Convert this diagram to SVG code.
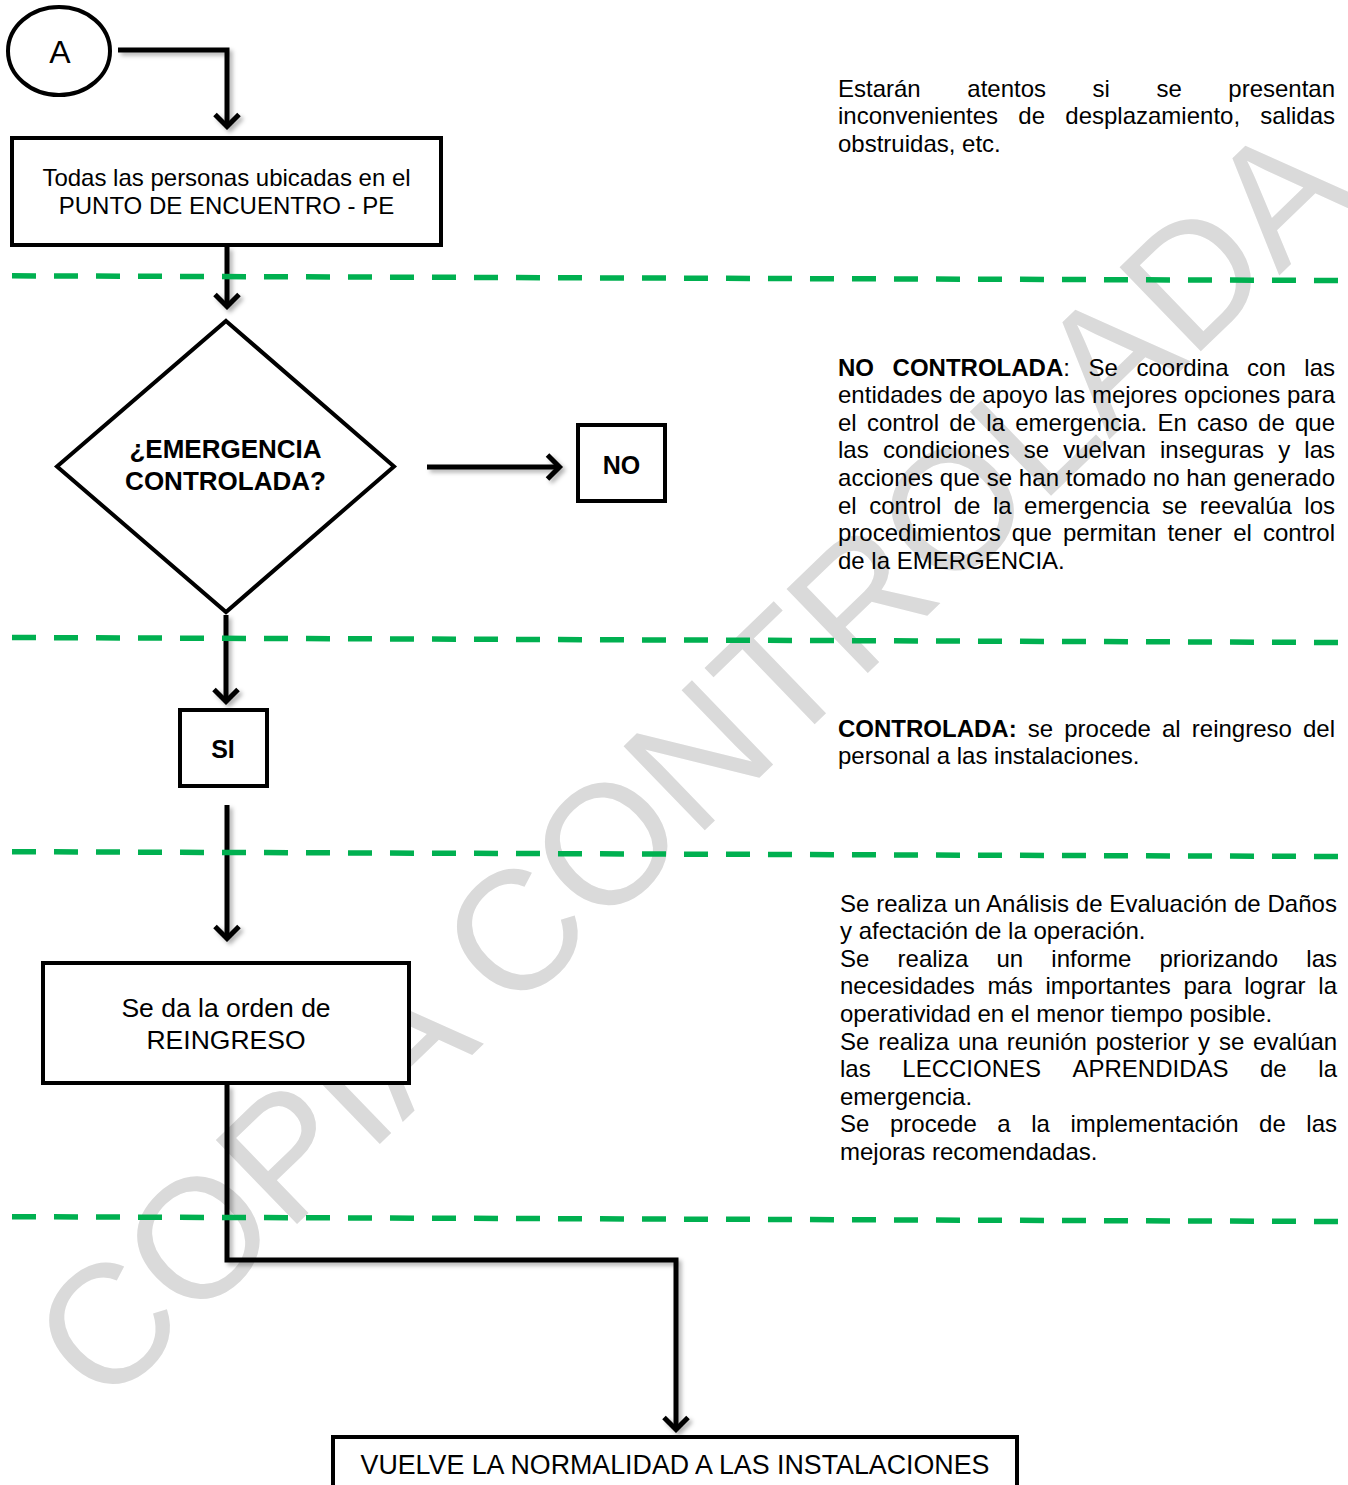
<svg xmlns="http://www.w3.org/2000/svg" width="1348" height="1485" viewBox="0 0 1348 1485">
<style>
.t{font-family:"Liberation Sans",Arial,sans-serif;fill:#000}
.p{font-size:24px}
.b{font-weight:bold}
.node{fill:#fff;stroke:#000;stroke-width:4}
.conn{fill:none;stroke:#000;stroke-width:5;stroke-linejoin:miter}
.sep{fill:none;stroke:#00b050;stroke-width:5.5;stroke-dasharray:24 18}
.wm{font-family:"Liberation Sans",Arial,sans-serif;font-size:170px;fill:#dadada}
</style>
<defs>
<marker id="ah" markerUnits="userSpaceOnUse" markerWidth="40" markerHeight="40" viewBox="-20 -20 40 40" refX="0" refY="0" orient="auto" overflow="visible">
<path d="M-12,-12 L0,0 L-12,12" fill="none" stroke="#000" stroke-width="5" stroke-linejoin="miter"/>
</marker>
<filter id="sh" filterUnits="userSpaceOnUse" x="0" y="0" width="1348" height="1485">
<feDropShadow dx="3" dy="3" stdDeviation="2" flood-color="#000" flood-opacity="0.3"/>
</filter>
</defs>
<rect width="1348" height="1485" fill="#fff"/>
<text id="watermark" class="wm" x="732" y="804" text-anchor="middle" transform="rotate(-44 732 804)">COPIA CONTROLADA</text>

<g id="connectors" class="conn" filter="url(#sh)">
<path d="M118,50 H227 V126.5" marker-end="url(#ah)"/>
<path d="M227,247 V306.5" marker-end="url(#ah)"/>
<path d="M427,467 H559.5" marker-end="url(#ah)"/>
<path d="M226,615 V701.5" marker-end="url(#ah)"/>
<path d="M227,805 V938.5" marker-end="url(#ah)"/>
<path d="M227,1085 V1260 H676 V1429.5" marker-end="url(#ah)"/>
</g>

<g id="separators" class="sep">
<line x1="12" y1="275.8" x2="1338" y2="280.5"/>
<line x1="12" y1="637.5" x2="1338" y2="642.5"/>
<line x1="12" y1="851.7" x2="1338" y2="856.5"/>
<line x1="12" y1="1216.7" x2="1338" y2="1221.5"/>
</g>

<g id="nodeA">
<ellipse class="node" cx="59" cy="51" rx="51" ry="44"/>
<text class="t" x="60" y="62.5" font-size="32" text-anchor="middle">A</text>
</g>
<g id="nodePE">
<rect class="node" x="12" y="138" width="429" height="107"/>
<text class="t" x="226.5" y="186" font-size="24" text-anchor="middle">Todas las personas ubicadas en el</text>
<text class="t" x="226.5" y="213.5" font-size="24" text-anchor="middle">PUNTO DE ENCUENTRO - PE</text>
</g>
<g id="nodeDecision">
<polygon class="node" points="226,321 394,466.5 226,612 57,466.5"/>
<text class="t b" x="225.5" y="458" font-size="26" text-anchor="middle">¿EMERGENCIA</text>
<text class="t b" x="225.5" y="490" font-size="26" text-anchor="middle">CONTROLADA?</text>
</g>
<g id="nodeNO">
<rect class="node" x="578" y="425" width="87" height="76"/>
<text class="t b" x="621.5" y="474" font-size="25" text-anchor="middle">NO</text>
</g>
<g id="nodeSI">
<rect class="node" x="180" y="710" width="87" height="76"/>
<text class="t b" x="223" y="757.5" font-size="25" text-anchor="middle">SI</text>
</g>
<g id="nodeReingreso">
<rect class="node" x="43" y="963" width="366" height="120"/>
<text class="t" x="226" y="1017" font-size="26.5" text-anchor="middle">Se da la orden de</text>
<text class="t" x="226" y="1048.5" font-size="26.5" text-anchor="middle">REINGRESO</text>
</g>
<g id="nodeNormalidad">
<rect class="node" x="333" y="1437" width="684" height="70"/>
<text class="t" x="675" y="1474" font-size="26.8" text-anchor="middle">VUELVE LA NORMALIDAD A LAS INSTALACIONES</text>
</g>

<g id="note1" class="t p">
<text y="96.5"><tspan x="838">Estarán</tspan><tspan x="967.3">atentos</tspan><tspan x="1092.6">si</tspan><tspan x="1156.5">se</tspan><tspan x="1228.3">presentan</tspan></text>
<text y="124"><tspan x="838">inconvenientes</tspan><tspan x="1018.3">de</tspan><tspan x="1065.3">desplazamiento,</tspan><tspan x="1260.3">salidas</tspan></text>
<text x="838" y="151.5">obstruidas, etc.</text>
</g>

<g id="note2" class="t p">
<text y="375.5"><tspan x="838" class="b">NO</tspan><tspan x="892.6" class="b">CONTROLADA</tspan><tspan>:</tspan><tspan x="1088.5">Se</tspan><tspan x="1136.5">coordina</tspan><tspan x="1247.1">con</tspan><tspan x="1304.3">las</tspan></text>
<text x="838" y="403.1" textLength="497" lengthAdjust="spacing">entidades de apoyo las mejores opciones para</text>
<text y="430.7"><tspan x="838">el</tspan><tspan x="867">control</tspan><tspan x="949.2">de</tspan><tspan x="986.2">la</tspan><tspan x="1015.2">emergencia.</tspan><tspan x="1157.4">En</tspan><tspan x="1197.1">caso</tspan><tspan x="1258.1">de</tspan><tspan x="1295">que</tspan></text>
<text y="458.3"><tspan x="838">las</tspan><tspan x="882.9">condiciones</tspan><tspan x="1023.7">se</tspan><tspan x="1063.2">vuelvan</tspan><tspan x="1160">inseguras</tspan><tspan x="1278.2">y</tspan><tspan x="1304.3">las</tspan></text>
<text x="838" y="485.9" textLength="497" lengthAdjust="spacing">acciones que se han tomado no han generado</text>
<text y="513.5"><tspan x="838">el</tspan><tspan x="869.2">control</tspan><tspan x="953.7">de</tspan><tspan x="992.9">la</tspan><tspan x="1024.1">emergencia</tspan><tspan x="1162">se</tspan><tspan x="1199.8">reevalúa</tspan><tspan x="1304.3">los</tspan></text>
<text y="541.1"><tspan x="838">procedimientos</tspan><tspan x="1011.8">que</tspan><tspan x="1062.9">permitan</tspan><tspan x="1167.4">tener</tspan><tspan x="1233.2">el</tspan><tspan x="1263">control</tspan></text>
<text x="838" y="568.7">de la EMERGENCIA.</text>
</g>

<g id="note3" class="t p">
<text y="736.5"><tspan x="838" class="b">CONTROLADA:</tspan><tspan x="1027.7">se</tspan><tspan x="1064.2">procede</tspan><tspan x="1162">al</tspan><tspan x="1191.8">reingreso</tspan><tspan x="1303">del</tspan></text>
<text x="838" y="764">personal a las instalaciones.</text>
</g>

<g id="note4" class="t p">
<text x="840" y="911.5" textLength="497" lengthAdjust="spacing">Se realiza un Análisis de Evaluación de Daños</text>
<text x="840" y="939.1">y afectación de la operación.</text>
<text y="966.7"><tspan x="840">Se</tspan><tspan x="897.6">realiza</tspan><tspan x="996.4">un</tspan><tspan x="1051.3">informe</tspan><tspan x="1159.4">priorizando</tspan><tspan x="1306.3">las</tspan></text>
<text y="994.3"><tspan x="840">necesidades</tspan><tspan x="987.4">más</tspan><tspan x="1045.4">importantes</tspan><tspan x="1183.5">para</tspan><tspan x="1244.2">lograr</tspan><tspan x="1318.3">la</tspan></text>
<text x="840" y="1021.9">operatividad en el menor tiempo posible.</text>
<text y="1049.5"><tspan x="840">Se</tspan><tspan x="878.3">realiza</tspan><tspan x="957.9">una</tspan><tspan x="1006.8">reunión</tspan><tspan x="1095.7">posterior</tspan><tspan x="1198">y</tspan><tspan x="1218.9">se</tspan><tspan x="1253.1">evalúan</tspan></text>
<text y="1077.1"><tspan x="840">las</tspan><tspan x="902.3">LECCIONES</tspan><tspan x="1072.5">APRENDIDAS</tspan><tspan x="1260">de</tspan><tspan x="1318.3">la</tspan></text>
<text x="840" y="1104.7">emergencia.</text>
<text y="1132.3"><tspan x="840">Se</tspan><tspan x="890">procede</tspan><tspan x="997.3">a</tspan><tspan x="1031.2">la</tspan><tspan x="1070.5">implementación</tspan><tspan x="1259.1">de</tspan><tspan x="1306.3">las</tspan></text>
<text x="840" y="1159.9">mejoras recomendadas.</text>
</g>
</svg>
